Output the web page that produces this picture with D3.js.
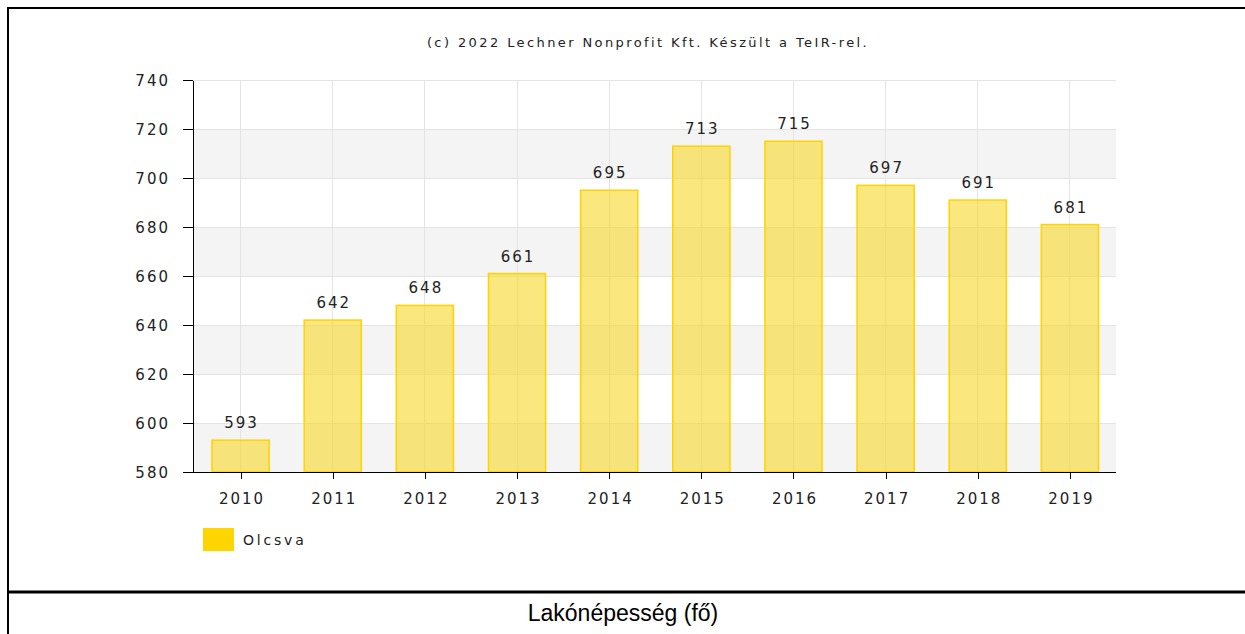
<!DOCTYPE html>
<html>
<head>
<script src="https://cdnjs.cloudflare.com/ajax/libs/d3/7.8.5/d3.min.js"></script>
<style>
  body { margin: 0; background: #fff; font-family: "DejaVu Sans", Verdana, sans-serif; }
  .axis path, .axis line { stroke: #000; shape-rendering: crispEdges; }
</style>
</head>
<body>
<script>
// data
var years = ["2010","2011","2012","2013","2014","2015","2016","2017","2018","2019"];
var values = [593, 642, 648, 661, 695, 713, 715, 697, 691, 681];
var yTicks = [580, 600, 620, 640, 660, 680, 700, 720, 740];
var seriesName = "Olcsva";
var credit = "(c) 2022 Lechner Nonprofit Kft. Készült a TeIR-rel.";
var caption = "Lakónépesség (fő)";

var W = 1245, H = 634;
var plot = { left: 193, right: 1116, top: 80, bottom: 472 };

var svg = d3.select("body").append("svg")
    .attr("width", W).attr("height", H);

// outer frame (right and bottom edges fall off the picture) and caption row
svg.append("rect").attr("x", 8).attr("y", 8).attr("width", W + 10).attr("height", H + 10)
    .attr("fill", "none").attr("stroke", "#000").attr("stroke-width", 2);
svg.append("line").attr("x1", 8).attr("x2", W).attr("y1", 592).attr("y2", 592)
    .attr("stroke", "#000").attr("stroke-width", 3);
svg.append("text").attr("x", 623).attr("y", 621).attr("text-anchor", "middle")
    .style("font-family", "Liberation Sans, Arial, sans-serif").style("font-size", "23px")
    .text(caption);

svg.append("text").attr("x", 648).attr("y", 47).attr("text-anchor", "middle")
    .style("font-size", "13px").style("letter-spacing", "2.4px").attr("fill", "#222")
    .text(credit);

var x = d3.scaleBand().domain(years).range([194.5, plot.right]).paddingInner(0.38).paddingOuter(0.19);
var xc = d3.scalePoint().domain(years).range([194.5, plot.right]).padding(0.5);
var y = d3.scaleLinear().domain([580, 740]).range([plot.bottom, plot.top]);

// alternating bands
var bandPairs = d3.pairs(yTicks).filter(function(d, i) { return i % 2 === 0; });
svg.selectAll(".band").data(bandPairs).enter().append("rect")
    .attr("x", plot.left).attr("width", plot.right - plot.left)
    .attr("y", function(d) { return y(d[1]); })
    .attr("height", function(d) { return y(d[0]) - y(d[1]); })
    .attr("fill", "#f4f4f4");

// grid
svg.selectAll(".hg").data(yTicks).enter().append("line")
    .attr("x1", plot.left).attr("x2", plot.right)
    .attr("y1", function(d) { return y(d); }).attr("y2", function(d) { return y(d); })
    .attr("stroke", "#e4e4e4").attr("shape-rendering", "crispEdges");
svg.selectAll(".vg").data(years).enter().append("line")
    .attr("x1", function(d) { return xc(d); }).attr("x2", function(d) { return xc(d); })
    .attr("y1", plot.top).attr("y2", plot.bottom)
    .attr("stroke", "#e4e4e4").attr("shape-rendering", "crispEdges");

// bars
svg.selectAll(".bar").data(values).enter().append("rect")
    .attr("x", function(d, i) { return x(years[i]); })
    .attr("width", x.bandwidth())
    .attr("y", function(d) { return y(d); })
    .attr("height", function(d) { return plot.bottom - y(d); })
    .attr("fill", "rgba(247,215,40,0.6)")
    .attr("stroke", "#ffd200").attr("stroke-width", 1.5);

svg.selectAll(".lbl").data(values).enter().append("text")
    .attr("x", function(d, i) { return xc(years[i]) + 1; })
    .attr("y", function(d) { return y(d) - 12; })
    .attr("text-anchor", "middle")
    .style("font-size", "15px").style("letter-spacing", "2px").attr("fill", "#222")
    .text(function(d) { return d; });

function styleTicks(g) {
  g.selectAll("text")
    .style("font-family", "DejaVu Sans, Verdana, sans-serif")
    .style("font-size", "15px").style("letter-spacing", "2px").attr("fill", "#222");
}

// axes
svg.append("g").attr("class", "axis")
    .attr("transform", "translate(" + [plot.left, 0] + ")")
    .call(d3.axisLeft(y).tickValues(yTicks).tickSize(10).tickPadding(13).tickSizeOuter(0))
    .call(styleTicks)
    .selectAll("text").attr("dy", "0.35em");
svg.append("g").attr("class", "axis")
    .attr("transform", "translate(" + [0, plot.bottom] + ")")
    .call(d3.axisBottom(xc).tickSize(7).tickPadding(14).tickSizeOuter(0))
    .call(styleTicks)
    .call(function(g) { g.selectAll("text").attr("dx", "1"); })
    .select(".domain").attr("d", "M" + plot.left + ",0H" + plot.right);

// legend
svg.append("rect").attr("x", 203).attr("y", 528).attr("width", 31).attr("height", 23)
    .attr("fill", "#ffd500");
svg.append("text").attr("x", 243).attr("y", 545)
    .style("font-size", "14px").style("letter-spacing", "2.8px").attr("fill", "#222")
    .text(seriesName);
</script>
</body>
</html>
